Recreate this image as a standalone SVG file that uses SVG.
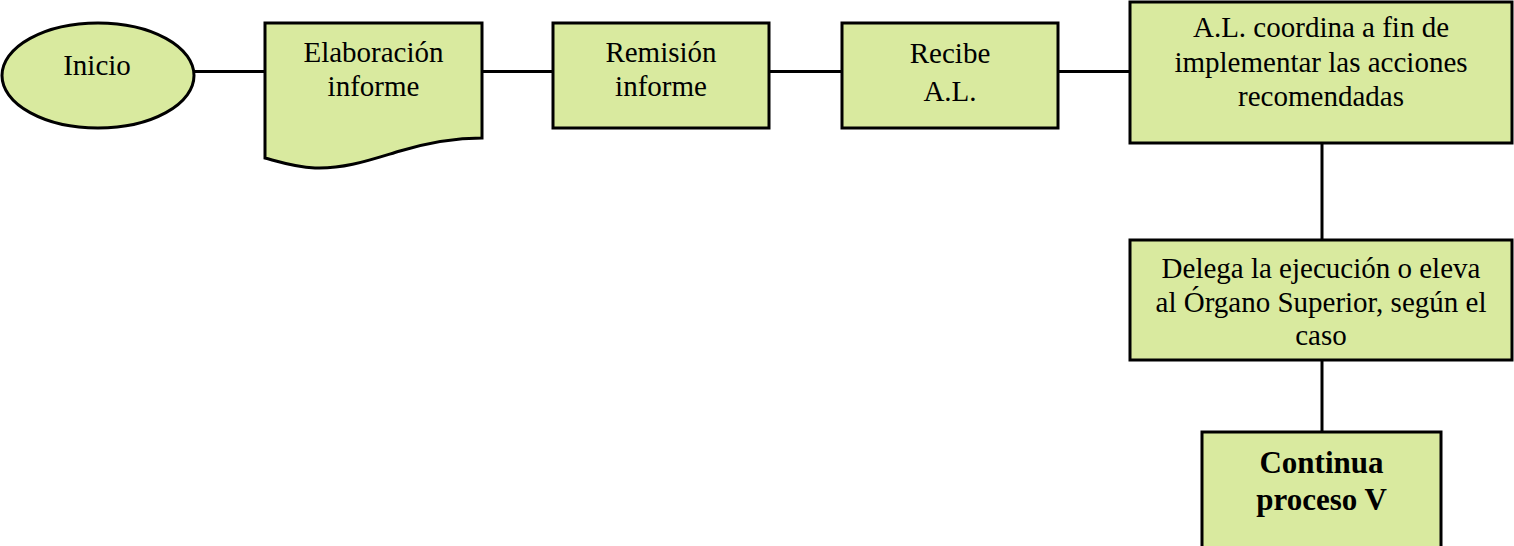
<svg xmlns="http://www.w3.org/2000/svg" width="1514" height="546" viewBox="0 0 1514 546">
  <style>
    .shape { fill: #D9EA9F; stroke: #000; stroke-width: 3; }
    .link { stroke: #000; stroke-width: 3; fill: none; }
    .lbl { font-family: "Liberation Serif", "DejaVu Serif", serif; font-size: 29px; font-weight: normal; fill: #000; text-anchor: middle; }
    .bold { font-weight: bold; font-size: 31px; }
  </style>
  <rect width="1514" height="546" fill="#fff"/>

  <!-- connectors -->
  <g id="connectors">
    <line class="link" x1="194" y1="71.5" x2="265" y2="71.5"/>
    <line class="link" x1="482" y1="71.5" x2="553" y2="71.5"/>
    <line class="link" x1="769" y1="71.5" x2="842" y2="71.5"/>
    <line class="link" x1="1058" y1="71.5" x2="1130" y2="71.5"/>
    <line class="link" x1="1322" y1="143" x2="1322" y2="240"/>
    <line class="link" x1="1322" y1="360" x2="1322" y2="432"/>
  </g>

  <g id="inicio">
    <ellipse class="shape" cx="98" cy="75.5" rx="96" ry="52.5"/>
    <text class="lbl" x="97" y="75">Inicio</text>
  </g>

  <g id="elaboracion">
    <path class="shape" d="M265,23 H482 V138 C455,138 430,142 400,151 C370,160 345,169 315,168 C295,167 280,162 265,158 Z"/>
    <text class="lbl" x="373.5" y="62">Elaboración</text>
    <text class="lbl" x="373.5" y="96">informe</text>
  </g>

  <g id="remision">
    <rect class="shape" x="553" y="23" width="216" height="105"/>
    <text class="lbl" x="661" y="62">Remisión</text>
    <text class="lbl" x="661" y="96">informe</text>
  </g>

  <g id="recibe">
    <rect class="shape" x="842" y="23" width="216" height="105"/>
    <text class="lbl" x="950" y="63">Recibe</text>
    <text class="lbl" x="950" y="101">A.L.</text>
  </g>

  <g id="coordina">
    <rect class="shape" x="1130" y="2" width="382" height="141"/>
    <text class="lbl" x="1321" y="37">A.L. coordina a fin de</text>
    <text class="lbl" x="1321" y="71.5">implementar las acciones</text>
    <text class="lbl" x="1321" y="106">recomendadas</text>
  </g>

  <g id="delega">
    <rect class="shape" x="1130" y="240" width="382" height="120"/>
    <text class="lbl" x="1321" y="278">Delega la ejecución o eleva</text>
    <text class="lbl" x="1321" y="311.5">al Órgano Superior, según el</text>
    <text class="lbl" x="1321" y="345">caso</text>
  </g>

  <g id="continua">
    <rect class="shape" x="1202" y="432" width="239" height="120"/>
    <text class="lbl bold" x="1321.5" y="473">Continua</text>
    <text class="lbl bold" x="1321.5" y="510">proceso V</text>
  </g>
</svg>
